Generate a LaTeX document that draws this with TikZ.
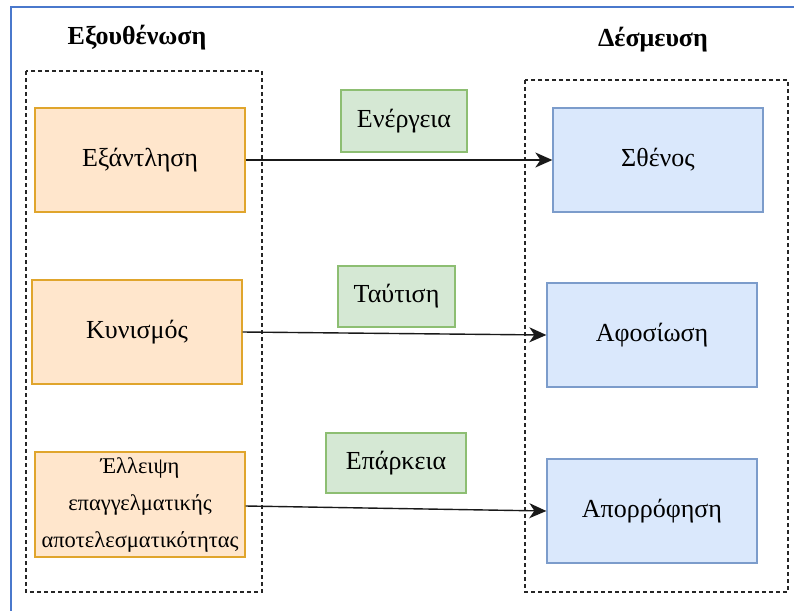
\documentclass[tikz,border=0pt]{standalone}
\usepackage{fontspec}
\setmainfont{Liberation Serif}
\usetikzlibrary{arrows.meta}
\definecolor{orfill}{HTML}{FFE6CC}
\definecolor{ordraw}{HTML}{E0A52C}
\definecolor{blfill}{HTML}{DAE8FC}
\definecolor{bldraw}{HTML}{7C9CCB}
\definecolor{grfill}{HTML}{D5E8D4}
\definecolor{grdraw}{HTML}{8DBE72}
\definecolor{frame}{HTML}{4A78CC}
\tikzset{
  basebox/.style={rectangle, line width=1.3pt, inner sep=2pt, align=center,
    font=\fontsize{26}{30}\selectfont},
  orbox/.style={basebox, fill=orfill, draw=ordraw, minimum width=210pt, minimum height=104pt},
  blbox/.style={basebox, fill=blfill, draw=bldraw, minimum width=210pt, minimum height=104pt},
  grbox/.style={basebox, fill=grfill, draw=grdraw},
  grouprect/.style={draw=black!85, line width=1.2pt, dash pattern=on 4pt off 3pt},
  titletext/.style={font=\fontsize{26}{30}\selectfont\bfseries},
  conn/.style={draw=black!90, line width=1.4pt, -{Stealth[length=17pt,width=15pt,inset=5pt]}}
}
\begin{document}
\begin{tikzpicture}[x=1pt,y=-1pt]
\useasboundingbox (0,0) rectangle (794,610);
\clip (0,0) rectangle (794,610);
\draw[frame, line width=2pt] (11,7) rectangle (820,640);
\draw[grouprect] (26,71) rectangle (262,592);
\draw[grouprect] (525,80) rectangle (788,592);
\node[titletext] (t1) at (137,38) {Εξουθένωση};
\node[titletext] (t2) at (653,40) {Δέσμευση};
\node[orbox] (a1) at (140,160) {Εξάντληση};
\node[orbox] (a2) at (137,332) {Κυνισμός};
\node[orbox, minimum height=105pt, font=\fontsize{22.5}{37}\selectfont] (a3) at (140,504.5) {Έλλειψη\\επαγγελματικής\\αποτελεσματικότητας};
\node[blbox] (b1) at (658,160) {Σθένος};
\node[blbox] (b2) at (652,335) {Αφοσίωση};
\node[blbox] (b3) at (652,511) {Απορρόφηση};
\node[grbox, minimum width=126pt, minimum height=62pt] (g1) at (404,121) {Ενέργεια};
\node[grbox, minimum width=117pt, minimum height=61pt] (g2) at (396.5,296.5) {Ταύτιση};
\node[grbox, minimum width=140pt, minimum height=60pt] (g3) at (396,463) {Επάρκεια};
\draw[conn] (a1.east) -- (b1.west);
\draw[conn] (a2.east) -- (b2.west);
\draw[conn] ([yshift=-1.5pt]a3.east) -- (b3.west);
\end{tikzpicture}
\end{document}
